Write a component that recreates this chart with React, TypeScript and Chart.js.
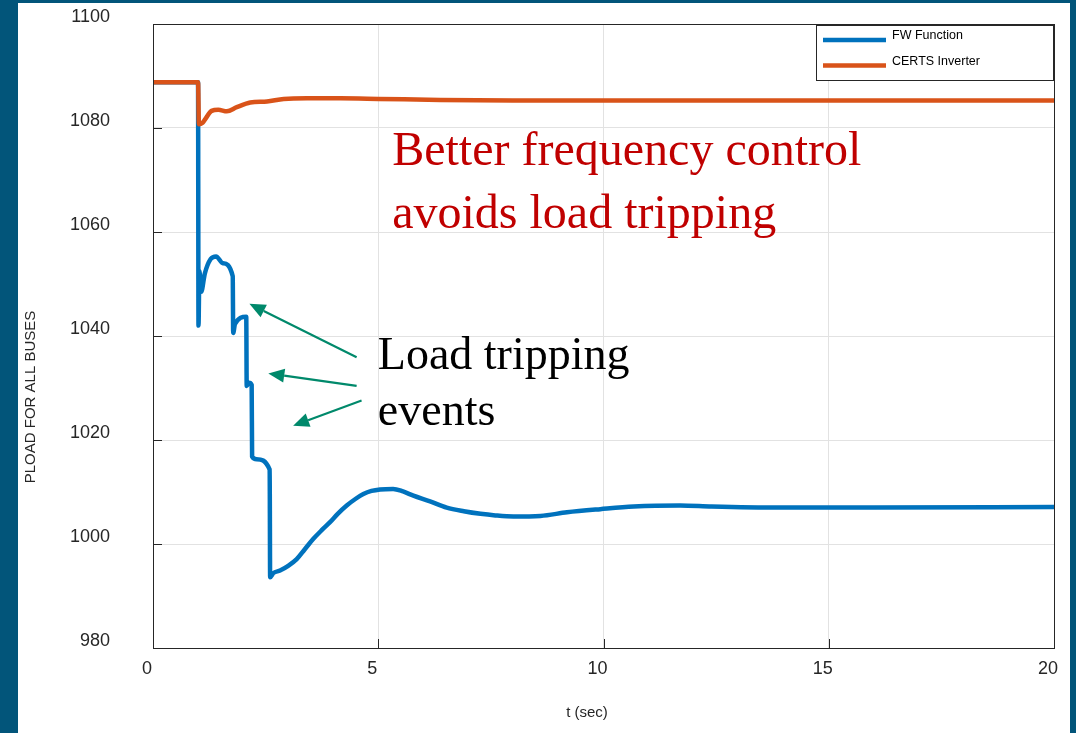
import React, { useEffect, useRef } from "react";
import { Chart, registerables } from "chart.js";

Chart.register(...registerables);

// ---- data ----
const seriesNames = ["FW Function", "CERTS Inverter"];
const seriesColors = ["#0072BD", "#D95319"];

const tFW = [0, 1.0, 1.01, 1.03, 1.07, 1.15, 1.28, 1.4, 1.55, 1.77, 1.78, 1.82, 2.07, 2.08, 2.13, 2.19, 2.2, 2.3, 2.59, 2.6, 2.67, 2.82, 3.0, 3.19, 3.37, 3.56, 3.75, 3.93, 4.1, 4.3, 4.5, 4.67, 4.85, 5.04, 5.33, 5.55, 5.78, 6.15, 6.52, 6.9, 7.27, 7.6, 8.0, 8.6, 9.19, 9.93, 10.67, 11.7, 12.4, 13.9, 16, 20];
const vFW = [1088.8, 1088.8, 1042.0, 1052.5, 1048.5, 1052.0, 1054.8, 1055.3, 1054.0, 1051.5, 1040.6, 1042.3, 1043.7, 1030.4, 1031.0, 1030.6, 1016.8, 1016.3, 1014.3, 993.6, 994.4, 994.9, 995.8, 997.1, 999.0, 1001.0, 1002.7, 1004.2, 1005.8, 1007.4, 1008.7, 1009.6, 1010.2, 1010.5, 1010.6, 1010.1, 1009.3, 1008.2, 1007.0, 1006.3, 1005.8, 1005.5, 1005.3, 1005.4, 1006.1, 1006.7, 1007.2, 1007.4, 1007.2, 1007.0, 1007.0, 1007.1];

const tCERTS = [0, 1.0, 1.02, 1.1, 1.16, 1.3, 1.45, 1.64, 1.86, 2.16, 2.53, 2.9, 3.42, 4.16, 5.0, 6.38, 8.0, 12.0, 20];
const vCERTS = [1088.8, 1088.8, 1080.7, 1081.0, 1081.7, 1083.3, 1083.5, 1083.2, 1084.0, 1084.9, 1085.1, 1085.6, 1085.7, 1085.7, 1085.6, 1085.4, 1085.3, 1085.3, 1085.3];

const xTickValues = [0, 5, 10, 15, 20];
const yTickValues = [980, 1000, 1020, 1040, 1060, 1080, 1100];

const xTitle = "t (sec)";
const yTitle = "PLOAD FOR ALL BUSES";

// annotations anchored in data units
const redLines = ["Better frequency control", "avoids load tripping"];
const redAnchor = { t: 5.31, v: [1072.9, 1060.8] };
const blackLines = ["Load tripping", "events"];
const blackAnchor = { t: 4.99, v: [1033.65, 1022.9] };
const arrowsFrom = [
  [4.52, 1035.9],
  [4.52, 1030.4],
  [4.63, 1027.6],
];
const arrowsTo = [
  [2.14, 1046.2],
  [2.56, 1032.8],
  [3.11, 1022.75],
];

const W = 1076;
const H = 733;
const SANS = "'Liberation Sans', Arial, sans-serif";
const SERIF = "'Liberation Serif', 'Times New Roman', serif";

const bgPlugin = {
  id: "bgPanel",
  beforeDraw(chart: any) {
    const ctx = chart.ctx;
    ctx.save();
    ctx.fillStyle = "#02557a";
    ctx.fillRect(0, 0, W, H);
    ctx.fillStyle = "#ffffff";
    ctx.fillRect(18, 3, 1052, H - 3);
    ctx.restore();
  },
};

const overlayPlugin = {
  id: "overlay",
  afterDatasetsDraw(chart: any) {
    const ctx = chart.ctx;
    const a = chart.chartArea;
    const xs = chart.scales.x;
    const ys = chart.scales.y;
    ctx.save();

    // box
    ctx.strokeStyle = "#262626";
    ctx.lineWidth = 1;
    ctx.strokeRect(Math.round(a.left) + 0.5, Math.round(a.top) + 0.5, Math.round(a.right - a.left), Math.round(a.bottom - a.top));

    // inward ticks
    ctx.beginPath();
    yTickValues.forEach((v) => {
      const y = Math.round(ys.getPixelForValue(v)) + 0.5;
      ctx.moveTo(a.left, y);
      ctx.lineTo(a.left + 9, y);
    });
    xTickValues.forEach((v) => {
      const x = Math.round(xs.getPixelForValue(v)) + 0.5;
      ctx.moveTo(x, a.bottom);
      ctx.lineTo(x, a.bottom - 9);
    });
    ctx.stroke();

    // legend
    const lx = a.right - 238;
    const ly = a.top + 1;
    ctx.fillStyle = "#ffffff";
    ctx.fillRect(lx, ly, 237, 55);
    ctx.strokeStyle = "#262626";
    ctx.strokeRect(lx + 0.5, ly + 0.5, 237, 55);
    ctx.font = `12.5px ${SANS}`;
    ctx.textBaseline = "middle";
    ctx.textAlign = "left";
    seriesNames.forEach((name, i) => {
      const yy = ly + 15 + i * 25.5;
      ctx.strokeStyle = seriesColors[i];
      ctx.lineWidth = 4.5;
      ctx.beginPath();
      ctx.moveTo(lx + 7, yy);
      ctx.lineTo(lx + 70, yy);
      ctx.stroke();
      ctx.fillStyle = "#000000";
      ctx.fillText(name, lx + 76, yy - 4);
    });

    // annotation text
    ctx.textBaseline = "alphabetic";
    ctx.fillStyle = "#C00000";
    ctx.font = `48px ${SERIF}`;
    redLines.forEach((s, i) => {
      ctx.fillText(s, xs.getPixelForValue(redAnchor.t), ys.getPixelForValue(redAnchor.v[i]));
    });
    ctx.fillStyle = "#000000";
    ctx.font = `46px ${SERIF}`;
    blackLines.forEach((s, i) => {
      ctx.fillText(s, xs.getPixelForValue(blackAnchor.t), ys.getPixelForValue(blackAnchor.v[i]));
    });

    // arrows
    const green = "#00896B";
    arrowsFrom.forEach((f, i) => {
      const x1 = xs.getPixelForValue(f[0]);
      const y1 = ys.getPixelForValue(f[1]);
      const x2 = xs.getPixelForValue(arrowsTo[i][0]);
      const y2 = ys.getPixelForValue(arrowsTo[i][1]);
      const ang = Math.atan2(y2 - y1, x2 - x1);
      const hl = 16;
      const hw = 7;
      const bx = x2 - hl * Math.cos(ang);
      const by = y2 - hl * Math.sin(ang);
      ctx.strokeStyle = green;
      ctx.lineWidth = 2.2;
      ctx.beginPath();
      ctx.moveTo(x1, y1);
      ctx.lineTo(bx, by);
      ctx.stroke();
      ctx.fillStyle = green;
      ctx.beginPath();
      ctx.moveTo(x2, y2);
      ctx.lineTo(bx - hw * Math.sin(ang), by + hw * Math.cos(ang));
      ctx.lineTo(bx + hw * Math.sin(ang), by - hw * Math.cos(ang));
      ctx.closePath();
      ctx.fill();
    });

    // axis titles
    ctx.fillStyle = "#262626";
    ctx.font = `15px ${SANS}`;
    ctx.textAlign = "center";
    ctx.textBaseline = "middle";
    ctx.fillText(xTitle, 587, 713);
    ctx.translate(31, 397);
    ctx.rotate(-Math.PI / 2);
    ctx.fillText(yTitle, 0, 0);

    ctx.restore();
  },
};

export default function App() {
  const ref = useRef<HTMLCanvasElement | null>(null);

  useEffect(() => {
    document.body.style.margin = "0";
    const canvas = ref.current;
    if (!canvas) return;
    const chart = new Chart(canvas, {
      type: "line",
      data: {
        datasets: [
          {
            label: seriesNames[0],
            data: tFW.map((t, i) => ({ x: t, y: vFW[i] })),
            borderColor: seriesColors[0],
            borderWidth: 4.5,
            pointRadius: 0,
            cubicInterpolationMode: "monotone",
            borderJoinStyle: "round",
            borderCapStyle: "round",
            order: 1,
          },
          {
            label: seriesNames[1],
            data: tCERTS.map((t, i) => ({ x: t, y: vCERTS[i] })),
            borderColor: seriesColors[1],
            borderWidth: 4.5,
            pointRadius: 0,
            cubicInterpolationMode: "monotone",
            borderJoinStyle: "round",
            borderCapStyle: "round",
            order: 0,
          },
        ],
      },
      options: {
        animation: false,
        responsive: false,
        devicePixelRatio: 1,
        layout: { padding: { top: 24, right: 22, left: 0, bottom: 0 } },
        plugins: {
          legend: { display: false },
          tooltip: { enabled: false },
          title: { display: false },
        },
        scales: {
          x: {
            type: "linear",
            min: 0,
            max: 20,
            afterBuildTicks: (s: any) => {
              s.ticks = xTickValues.map((v) => ({ value: v }));
            },
            afterFit: (s: any) => {
              s.height = 85;
            },
            ticks: {
              font: { family: SANS, size: 18 },
              color: "#262626",
              padding: 10,
              labelOffset: -6,
              maxRotation: 0,
              callback: (v: any) => String(v),
            },
            grid: { color: "#e2e2e2", lineWidth: 1, drawTicks: false },
            border: { display: true, color: "#262626", width: 1 },
          },
          y: {
            type: "linear",
            min: 980,
            max: 1100,
            afterBuildTicks: (s: any) => {
              s.ticks = yTickValues.map((v) => ({ value: v }));
            },
            afterFit: (s: any) => {
              s.width = 153;
            },
            ticks: {
              font: { family: SANS, size: 18 },
              color: "#262626",
              padding: 0,
              labelOffset: -7,
              callback: (v: any) => String(v),
            },
            grid: {
              color: "#e2e2e2",
              lineWidth: 1,
              drawTicks: true,
              tickLength: 43,
              tickColor: "rgba(0,0,0,0)",
            },
            border: { display: true, color: "#262626", width: 1 },
          },
        },
      },
      plugins: [bgPlugin, overlayPlugin],
    });
    return () => chart.destroy();
  }, []);

  return (
    <div style={{ position: "fixed", left: 0, top: 0, width: W, height: H }}>
      <canvas ref={ref} width={W} height={H} style={{ width: W, height: H, display: "block" }} />
    </div>
  );
}
